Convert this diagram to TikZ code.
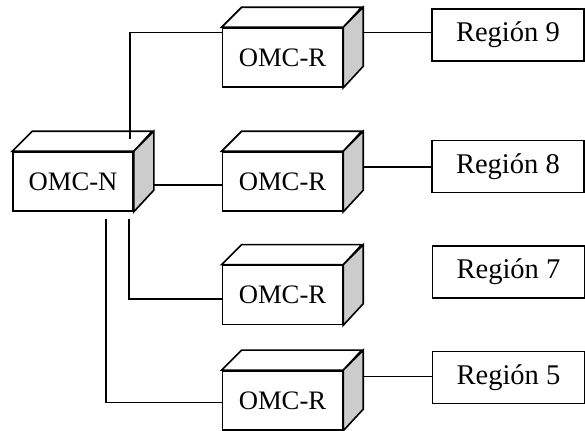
\documentclass[tikz,border=0pt]{standalone}
\usepackage{fontspec}
\setmainfont{Liberation Serif}
\usetikzlibrary{positioning}

\begin{document}
\begin{tikzpicture} [x=0.75pt, y=-0.75pt, on grid, line width=0.8pt,
	omc/.style ={draw, fill=white, line width=1.2pt, minimum width=90pt, minimum height=44.25pt, inner sep=0pt, font=\fontsize{20}{24}\selectfont},
	region/.style ={draw, fill=white, line width=1.2pt, minimum width=114pt, minimum height=39pt, inner sep=0pt, font=\fontsize{21.4}{25}\selectfont}]
	\useasboundingbox (0,0) rectangle (585,430);
	% OMC
	\node[omc] (N) at (73,181.5) {OMC-N};
	\node[omc] (R8) [right=157.1pt of N] {OMC-R};
	\node[omc] (R9) [above=93pt of R8] {OMC-R};
	\node[omc] (R7) [below=85.1pt of R8] {OMC-R};
	\node[omc] (R5) [below=79.1pt of R7] {OMC-R};
	\foreach \c in {N,R9,R8,R7,R5} {
		\draw[line width=1.2pt, fill=white] (\c.north west) -- ++(20,-20) -- ++(120,0) -- (\c.north east) -- cycle;
		\draw[line width=1.2pt, fill=gray!40] (\c.north east) -- ++(20,-20) -- ++(0,59) -- (\c.south east) -- cycle;
	}
	% regiones
	\node[region] (Reg9) [above right=16.9pt and 169.1pt of R9] {Región 9};
	\node[region] (Reg8) [above right=11.25pt and 169.1pt of R8] {Región 8};
	\node[region] (Reg7) [above right=17.25pt and 169.5pt of R7] {Región 7};
	\node[region] (Reg5) [above right=17.25pt and 169.5pt of R5] {Región 5};
	% enlaces
	\coordinate (s9) at ([shift={(20,-25)}]R9.east);
	\coordinate (s8) at ([shift={(20,-14.5)}]R8.east);
	\coordinate (s5) at ([shift={(20,-23.5)}]R5.east);
	\draw ([shift={(57,-12)}]N.north) |- ([shift={(0,5)}]R9.north west);
	\draw ([shift={(20,3.5)}]N.east) -- ([shift={(0,3.5)}]R8.west);
	\draw ([shift={(56,7)}]N.south) |- ([shift={(0,4)}]R7.west);
	\draw ([shift={(33,7)}]N.south) |- ([shift={(0,2.5)}]R5.west);
	\draw (s9) -- (s9 -| Reg9.west);
	\draw (s8) -- (s8 -| Reg8.west);
	\draw (s5) -- (s5 -| Reg5.west);
\end{tikzpicture}
\end{document}
